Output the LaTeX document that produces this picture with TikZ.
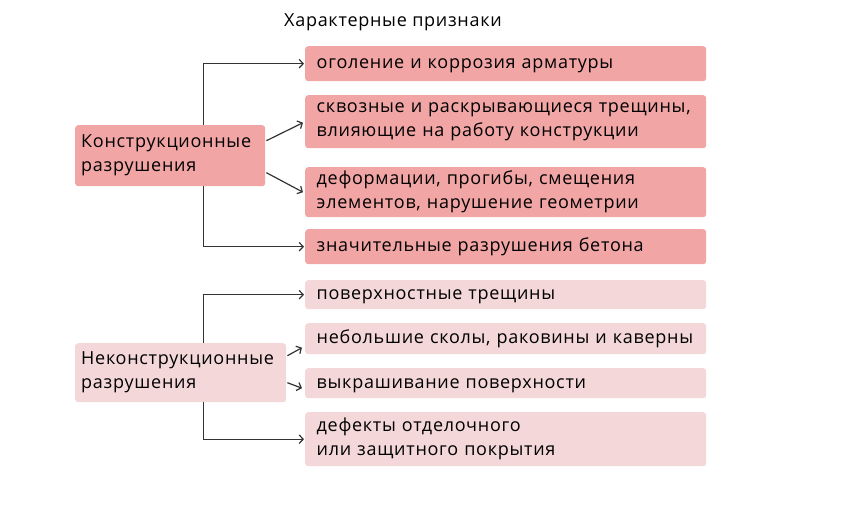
\documentclass[tikz,border=0pt]{standalone}
\usepackage{fontspec}
\setmainfont[LetterSpace=4]{Open Sans}
\usepackage{tikz}
\usetikzlibrary{arrows,arrows.meta,positioning,calc}

\definecolor{darkpink}{HTML}{F2A5A5}
\definecolor{lightpink}{HTML}{F4D8D9}

\begin{document}
\begin{tikzpicture}[x=1pt, y=-1pt,
    every node/.style={font=\fontsize{18}{24}\selectfont},
    sign/.style={rounded corners=3pt, anchor=north west, minimum width=401pt,
        text width=378pt, inner xsep=11.5pt, inner ysep=0pt, align=left},
    single/.style={text height=12pt, text depth=2pt},
    kind/.style={rounded corners=3pt, anchor=north west, inner xsep=6pt, inner ysep=0pt, align=left},
    link/.style={-{Straight Barb[length=4pt,width=8.5pt]}, black!80, line width=1.2pt}]
        \useasboundingbox (0,0) rectangle (844,524);

        % Title
        \node (title) at (393,22) {Характерные признаки};

        % Left nodes
        \node[kind, fill=darkpink, minimum width=190pt, text width=178pt, minimum height=61pt] (cA) at (75,125) {Конструкционные\\разрушения};
        \node[kind, fill=lightpink, minimum width=211pt, text width=199pt, minimum height=59pt] (cB) at (75,343) {Неконструкционные\\разрушения};

        % Signs
        \node[sign, single, fill=darkpink, minimum height=35pt] (s1) at (305,46) {оголение и коррозия арматуры};
        \node[sign, fill=darkpink, minimum height=53pt] (s2) at (305,95) {сквозные и раскрывающиеся трещины,\\влияющие на работу конструкции};
        \node[sign, fill=darkpink, minimum height=50pt] (s3) at (305,167) {деформации, прогибы, смещения\\элементов, нарушение геометрии};
        \node[sign, single, fill=darkpink, minimum height=35pt] (s4) at (305,229) {значительные разрушения бетона};
        \node[sign, single, fill=lightpink, minimum height=29pt] (s5) at (305,280) {поверхностные трещины};
        \node[sign, single, fill=lightpink, minimum height=31pt] (s6) at (305,323) {небольшие сколы, раковины и каверны};
        \node[sign, single, fill=lightpink, minimum height=30pt] (s7) at (305,368) {выкрашивание поверхности};
        \node[sign, fill=lightpink, minimum height=54pt] (s8) at (305,412) {дефекты отделочного\\или защитного покрытия};

        % Links
        \draw[link] ([xshift=-62pt]cA.north east) |- ([xshift=-1pt]s1.west);
        \draw[link] ([xshift=1pt,yshift=15pt]cA.east) -- ([xshift=-2pt,yshift=-1pt]s2.west);
        \draw[link] ([xshift=1pt,yshift=-17pt]cA.east) -- ([xshift=-2pt]s3.west);
        \draw[link] ([xshift=-62pt]cA.south east) |- ([xshift=-1pt]s4.west);
        \draw[link] ([xshift=-83pt]cB.north east) |- ([xshift=-1pt]s5.west);
        \draw[link] ([xshift=1pt,yshift=17pt]cB.east) -- ([xshift=-3pt,yshift=-9pt]s6.west);
        \draw[link] ([xshift=1pt,yshift=-10pt]cB.east) -- ([xshift=-3pt,yshift=-5pt]s7.west);
        \draw[link] ([xshift=-83pt]cB.south east) |- ([xshift=-1pt]s8.west);
\end{tikzpicture}
\end{document}
